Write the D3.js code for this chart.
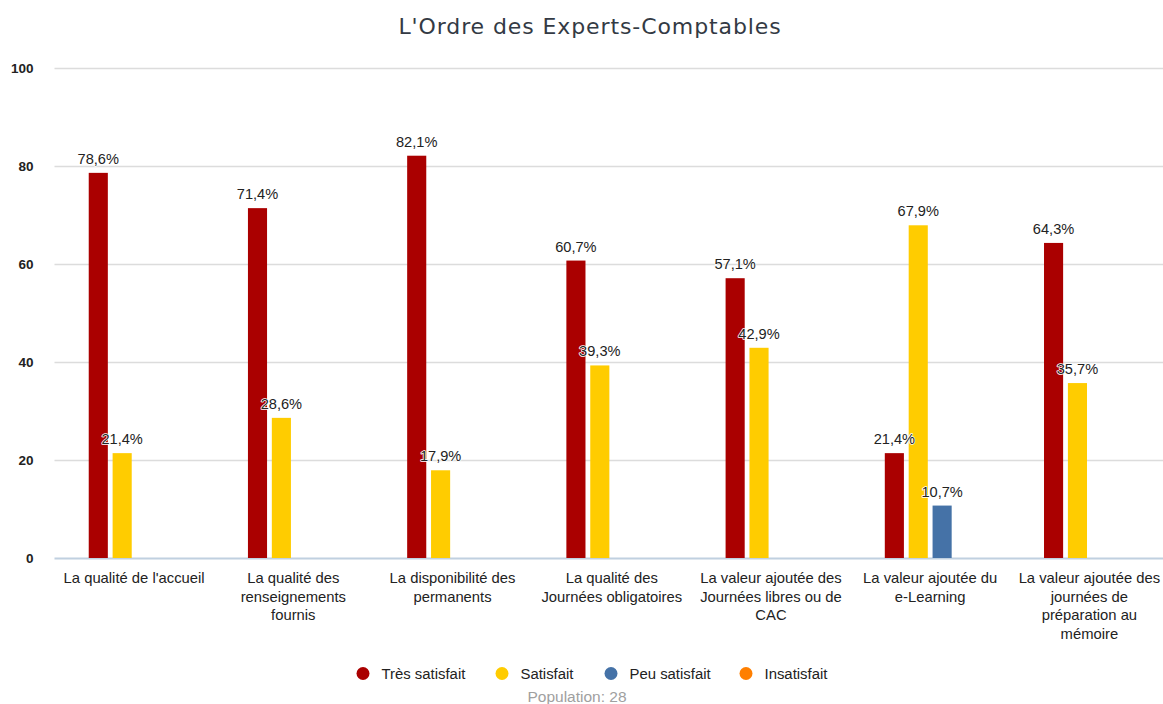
<!DOCTYPE html>
<html><head><meta charset="utf-8">
<script src="https://cdn.jsdelivr.net/npm/d3@7"></script>
<style>
html,body{margin:0;padding:0;background:#fff;}
svg{display:block;}
</style></head>
<body>
<svg id="chart" width="1163" height="704"></svg>
<script>
const title = "L'Ordre des Experts-Comptables";
const categories = [
  "La qualité de l'accueil",
  "La qualité des\nrenseignements\nfournis",
  "La disponibilité des\npermanents",
  "La qualité des\nJournées obligatoires",
  "La valeur ajoutée des\nJournées libres ou de\nCAC",
  "La valeur ajoutée du\ne-Learning",
  "La valeur ajoutée des\njournées de\npréparation au\nmémoire"
];
const seriesNames = ["Très satisfait", "Satisfait", "Peu satisfait", "Insatisfait"];
const seriesColors = ["#AA0000", "#FFCC00", "#4572A7", "#FF7F00"];
const tresSatisfait = [78.6, 71.4, 82.1, 60.7, 57.1, 21.4, 64.3];
const satisfait     = [21.4, 28.6, 17.9, 39.3, 42.9, 67.9, 35.7];
const peuSatisfait  = [null, null, null, null, null, 10.7, null];
const insatisfait   = [null, null, null, null, null, null, null];
const yTicks = [0, 20, 40, 60, 80, 100];
const footer = "Population: 28";

const seriesValues = [tresSatisfait, satisfait, peuSatisfait, insatisfait];

const svg = d3.select("#chart");
const plot = {left: 54.5, right: 1169, top: 68, bottom: 558};
const FONT = "'Liberation Sans', Arial, sans-serif";

const x = d3.scaleBand().domain(categories.map((c,i)=>i)).range([plot.left, plot.right]).paddingInner(0).paddingOuter(0);
const gp = 0.2;
const xs = d3.scaleBand().domain(d3.range(seriesNames.length))
  .range([x.bandwidth()*gp, x.bandwidth()*(1-gp)]).paddingInner(0.2).paddingOuter(0.1);
const y = d3.scaleLinear().domain([0, 100]).range([plot.bottom, plot.top]);

// title
svg.append("text").attr("x", 590).attr("y", 34).attr("text-anchor", "middle")
  .style("font-family", "'DejaVu Sans', sans-serif").style("font-size", "22px")
  .style("letter-spacing", "0.9px")
  .style("fill", "#333a44").text(title);

// gridlines
const yAxis = d3.axisLeft(y).tickValues(yTicks).tickSize(-(plot.right-plot.left)).tickPadding(21).tickFormat(d3.format("d"));
const gy = svg.append("g").attr("transform", `translate(${plot.left},0)`).call(yAxis);
gy.select(".domain").remove();
gy.selectAll(".tick line").attr("stroke", "#dcdcdc").attr("stroke-width", 1.5);
gy.selectAll(".tick text").style("font-family", FONT)
  .style("font-size", "13.5px").style("fill", "#222").style("font-weight", "600").attr("dy", "0.35em");
gy.selectAll(".tick").filter(d => d === 0).select("line").attr("stroke", "#c0d0e0").attr("stroke-width", 2);

// bars
const groups = svg.append("g").selectAll("g").data(categories).join("g")
  .attr("transform", (d,i) => `translate(${x(i)},0)`);
const barData = (d,i) => seriesValues.map((arr, s) => ({s, v: arr[i]})).filter(e => e.v != null);
groups.each(function(d,i){
  const g = d3.select(this);
  const bd = barData(d,i);
  g.selectAll("rect").data(bd).join("rect")
    .attr("x", e => xs(e.s)).attr("width", xs.bandwidth())
    .attr("y", e => y(e.v)).attr("height", e => y(0) - y(e.v))
    .attr("fill", e => seriesColors[e.s]);
  g.selectAll("text.lbl").data(bd).join("text").attr("class","lbl")
    .attr("x", e => xs(e.s) + xs.bandwidth()/2).attr("y", e => y(e.v) - 9)
    .attr("text-anchor", "middle")
    .style("font-family", FONT).style("font-size", "14.6px")
    .style("fill", "#222").style("stroke", "#fff").style("stroke-width", 1.5)
    .style("paint-order", "stroke").style("stroke-linejoin", "round")
    .text(e => d3.format(".1f")(e.v).replace(".", ",") + "%");
});

// x labels
const xl = svg.append("g");
categories.forEach((c,i) => {
  const cx = x(i) + x.bandwidth()/2;
  const t = xl.append("text").attr("x", cx).attr("y", 583)
    .attr("text-anchor", "middle")
    .style("font-family", FONT).style("font-size", "14.8px")
    .style("fill", "#222");
  c.split("\n").forEach((line, k) => {
    t.append("tspan").attr("x", cx).attr("dy", k === 0 ? 0 : 18.5).text(line);
  });
});

// legend
const legendX = [363, 502, 611, 746];
const lg = svg.append("g");
seriesNames.forEach((n, s) => {
  lg.append("circle").attr("cx", legendX[s]).attr("cy", 673.5).attr("r", 6.5).attr("fill", seriesColors[s]);
  lg.append("text").attr("x", legendX[s] + 18.5).attr("y", 678.5)
    .style("font-family", FONT).style("font-size", "14.9px")
    .style("fill", "#222").text(n);
});
svg.append("text").attr("x", 577).attr("y", 701.5).attr("text-anchor", "middle")
  .style("font-family", FONT).style("font-size", "15.5px")
  .style("fill", "#a0a0a0").text(footer);
</script>
</body></html>
